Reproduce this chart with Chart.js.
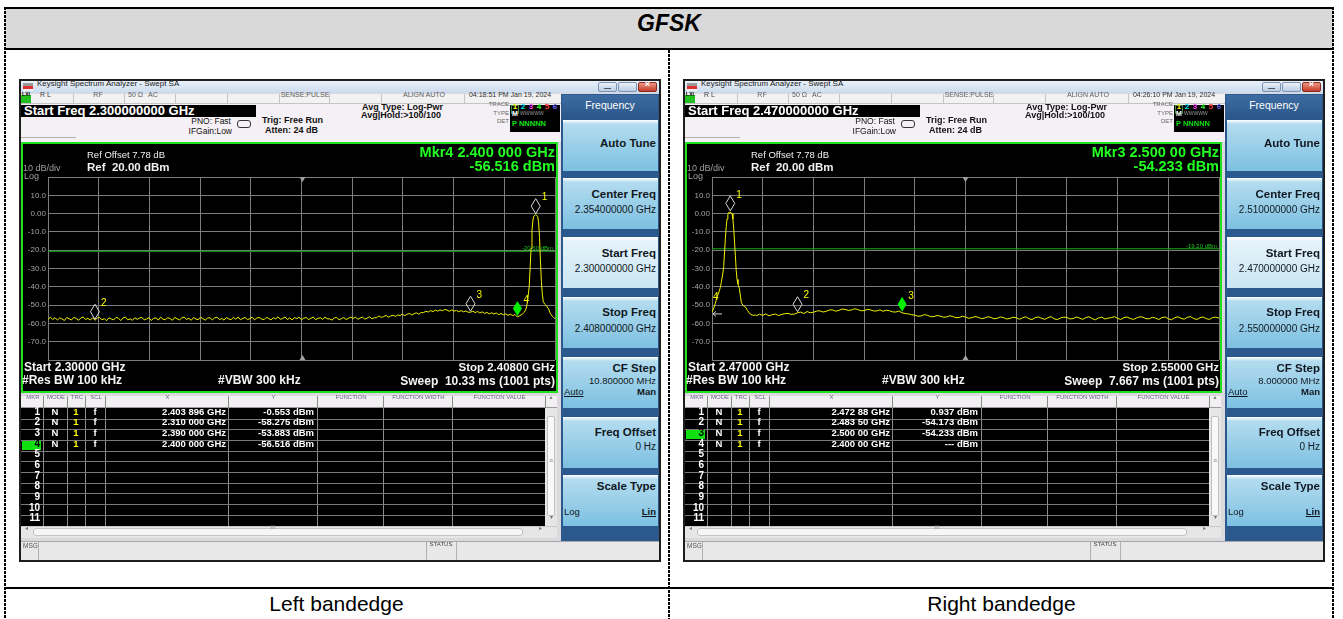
<!DOCTYPE html>
<html>
<head>
<meta charset="utf-8">
<script src="https://cdn.jsdelivr.net/npm/chart.js@4.4.1/dist/chart.umd.min.js"></script>
<style>
html, body { margin: 0; padding: 0; background: #fff; }
body { width: 1343px; height: 619px; position: relative; overflow: hidden; font-family: Arial, "Liberation Sans", sans-serif; }
.vd { position: absolute; width: 2px; background: repeating-linear-gradient(to bottom, #000 0, #000 3px, transparent 3px, transparent 4px); }
</style>
</head>
<body>
<script>
// ---- data ----
const yTickValues = [10, 0, -10, -20, -30, -40, -50, -60, -70];
const yTickLabels = ['10.0', '0.00', '-10.0', '-20.0', '-30.0', '-40.0', '-50.0', '-60.0', '-70.0'];

// left bandedge trace (GHz / dBm)
const leftFreqs = [
  2.3000, 2.3005, 2.3010, 2.3015, 2.3020, 2.3025, 2.3030, 2.3035, 2.3040, 2.3045,
  2.3050, 2.3055, 2.3060, 2.3065, 2.3070, 2.3075, 2.3080, 2.3085, 2.3090, 2.3095,
  2.3100, 2.3105, 2.3110, 2.3115, 2.3120, 2.3125, 2.3130, 2.3135, 2.3140, 2.3145,
  2.3150, 2.3155, 2.3160, 2.3165, 2.3170, 2.3175, 2.3180, 2.3185, 2.3190, 2.3195,
  2.3200, 2.3205, 2.3210, 2.3215, 2.3220, 2.3225, 2.3230, 2.3235, 2.3240, 2.3245,
  2.3250, 2.3255, 2.3260, 2.3265, 2.3270, 2.3275, 2.3280, 2.3285, 2.3290, 2.3295,
  2.3300, 2.3305, 2.3310, 2.3315, 2.3320, 2.3325, 2.3330, 2.3335, 2.3340, 2.3345,
  2.3350, 2.3355, 2.3360, 2.3365, 2.3370, 2.3375, 2.3380, 2.3385, 2.3390, 2.3395,
  2.3400, 2.3405, 2.3410, 2.3415, 2.3420, 2.3425, 2.3430, 2.3435, 2.3440, 2.3445,
  2.3450, 2.3455, 2.3460, 2.3465, 2.3470, 2.3475, 2.3480, 2.3485, 2.3490, 2.3495,
  2.3500, 2.3505, 2.3510, 2.3515, 2.3520, 2.3525, 2.3530, 2.3535, 2.3540, 2.3545,
  2.3550, 2.3555, 2.3560, 2.3565, 2.3570, 2.3575, 2.3580, 2.3585, 2.3590, 2.3595,
  2.3600, 2.3605, 2.3610, 2.3615, 2.3620, 2.3625, 2.3630, 2.3635, 2.3640, 2.3645,
  2.3650, 2.3655, 2.3660, 2.3665, 2.3670, 2.3675, 2.3680, 2.3685, 2.3690, 2.3695,
  2.3700, 2.3705, 2.3710, 2.3715, 2.3720, 2.3725, 2.3730, 2.3735, 2.3740, 2.3745,
  2.3750, 2.3755, 2.3760, 2.3765, 2.3770, 2.3775, 2.3780, 2.3785, 2.3790, 2.3795,
  2.3800, 2.3805, 2.3810, 2.3815, 2.3820, 2.3825, 2.3830, 2.3835, 2.3840, 2.3845,
  2.3850, 2.3855, 2.3860, 2.3865, 2.3870, 2.3875, 2.3880, 2.3885, 2.3890, 2.3895,
  2.3900, 2.3905, 2.3910, 2.3915, 2.3920, 2.3925, 2.3930, 2.3935, 2.3940, 2.3945,
  2.3950, 2.3955, 2.3960, 2.3965, 2.3970, 2.3975, 2.3980, 2.3985, 2.3990, 2.3995,
  2.4000, 2.4005, 2.4010, 2.4015, 2.4019, 2.4022, 2.4025, 2.4027, 2.4029, 2.4031,
  2.4033, 2.4035, 2.4037, 2.4039, 2.4041, 2.4043, 2.4045, 2.4047, 2.4049, 2.4051,
  2.4053, 2.4055, 2.4058, 2.4062, 2.4066, 2.4070, 2.4074, 2.4077, 2.4080
];
const leftLevels = [
  -57.8, -56.6, -57.9, -56.9, -58.2, -57.0, -57.6, -58.4, -56.8, -57.5,
  -58.1, -56.7, -57.3, -58.3, -57.0, -56.5, -57.9, -57.2, -58.2, -56.9,
  -58.3, -57.1, -56.8, -58.0, -57.4, -58.5, -56.9, -57.6, -58.1, -56.7,
  -57.2, -58.4, -57.0, -56.6, -58.0, -57.5, -58.3, -56.9, -57.8, -57.1,
  -56.7, -58.1, -57.6, -56.9, -58.4, -57.2, -57.0, -58.2, -56.6, -57.7,
  -58.0, -56.9, -57.3, -58.3, -56.7, -57.5, -58.1, -57.0, -56.5, -57.9,
  -57.2, -58.3, -56.8, -57.6, -58.0, -56.6, -57.4, -58.2, -57.1, -56.9,
  -58.1, -57.0, -56.6, -57.9, -57.3, -58.2, -56.8, -57.5, -58.0, -56.7,
  -57.7, -56.5, -58.0, -57.2, -56.8, -57.9, -57.4, -56.6, -58.1, -57.0,
  -56.8, -57.6, -58.0, -56.7, -57.3, -58.1, -56.9, -57.5, -56.4, -57.8,
  -57.3, -56.5, -57.9, -57.0, -58.1, -56.8, -57.4, -56.6, -58.0, -57.1,
  -56.8, -57.9, -57.2, -56.5, -58.0, -57.3, -56.9, -57.8, -56.6, -57.5,
  -57.5, -58.2, -57.0, -56.7, -58.1, -57.4, -56.8, -57.9, -57.2, -56.6,
  -57.3, -56.5, -57.8, -57.0, -56.6, -57.7, -57.1, -56.4, -57.5, -56.9,
  -56.9, -55.9, -56.7, -56.3, -55.6, -56.6, -56.0, -55.5, -56.2, -55.4,
  -55.7, -54.9, -55.8, -55.0, -54.6, -55.4, -54.7, -54.2, -55.0, -54.0,
  -54.1, -53.4, -53.8, -53.0, -53.6, -52.7, -53.3, -52.6, -53.1, -52.4,
  -52.7, -53.4, -52.6, -53.3, -52.9, -53.6, -53.0, -53.7, -53.2, -53.9,
  -53.9, -53.3, -54.1, -53.5, -54.3, -53.7, -54.5, -54.0, -54.8, -54.2,
  -54.9, -54.3, -55.2, -54.6, -55.3, -54.8, -55.6, -55.0, -55.7, -55.2,
  -56.5, -55.8, -55.0, -53.8, -51.5, -47.0, -40.0, -30.0, -19.0, -9.0,
  -3.5, -1.4, -0.9, -0.55, -0.9, -1.6, -4.5, -13.0, -26.0, -37.0,
  -44.0, -48.0, -49.5, -50.5, -52.0, -54.5, -56.0, -56.8, -57.3
];
const leftMarkerFreqs = [2.403896, 2.310, 2.390, 2.400];
const leftMarkerLevels = [-0.553, -58.275, -53.883, -56.516];
const leftMarkerX = ['2.403 896 GHz', '2.310 000 GHz', '2.390 000 GHz', '2.400 000 GHz'];
const leftMarkerY = ['-0.553 dBm', '-58.275 dBm', '-53.883 dBm', '-56.516 dBm'];

// right bandedge trace (GHz / dBm)
const rightFreqs = [
  2.4700, 2.4703, 2.47053, 2.4708, 2.47105, 2.4713, 2.47147, 2.4717, 2.47184, 2.4720,
  2.4721, 2.47225, 2.47237, 2.4725, 2.47263, 2.47275, 2.47288, 2.4730, 2.47316, 2.4733,
  2.47342, 2.47355, 2.47369, 2.47382, 2.47395, 2.4741, 2.47432, 2.4745, 2.47464, 2.4749,
  2.47527, 2.4756, 2.47606, 2.4765, 2.47685,
  2.4770, 2.4775, 2.4780, 2.4785, 2.4790, 2.4795, 2.4800, 2.4805, 2.4810, 2.4815,
  2.4820, 2.4825, 2.4830, 2.4835, 2.4840, 2.4845, 2.4850, 2.4855, 2.4860, 2.4865,
  2.4870, 2.4875, 2.4880, 2.4885, 2.4890, 2.4895, 2.4900, 2.4905, 2.4910, 2.4915,
  2.4920, 2.4925, 2.4930, 2.4935, 2.4940, 2.4945, 2.4950, 2.4955, 2.4960, 2.4965,
  2.4970, 2.4975, 2.4980, 2.4985, 2.4990, 2.4995, 2.5000, 2.5005, 2.5010, 2.5015,
  2.5020, 2.5025, 2.5030, 2.5035, 2.5040, 2.5045, 2.5050, 2.5055, 2.5060, 2.5065,
  2.5070, 2.5075, 2.5080, 2.5085, 2.5090, 2.5095, 2.5100, 2.5105, 2.5110, 2.5115,
  2.5120, 2.5125, 2.5130, 2.5135, 2.5140, 2.5145, 2.5150, 2.5155, 2.5160, 2.5165,
  2.5170, 2.5175, 2.5180, 2.5185, 2.5190, 2.5195, 2.5200, 2.5205, 2.5210, 2.5215,
  2.5220, 2.5225, 2.5230, 2.5235, 2.5240, 2.5245, 2.5250, 2.5255, 2.5260, 2.5265,
  2.5270, 2.5275, 2.5280, 2.5285, 2.5290, 2.5295, 2.5300, 2.5305, 2.5310, 2.5315,
  2.5320, 2.5325, 2.5330, 2.5335, 2.5340, 2.5345, 2.5350, 2.5355, 2.5360, 2.5365,
  2.5370, 2.5375, 2.5380, 2.5385, 2.5390, 2.5395, 2.5400, 2.5405, 2.5410, 2.5415,
  2.5420, 2.5425, 2.5430, 2.5435, 2.5440, 2.5445, 2.5450, 2.5455, 2.5460, 2.5465,
  2.5470, 2.5475, 2.5480, 2.5485, 2.5490, 2.5495, 2.5500
];
const rightLevels = [
  -54.0, -51.5, -48.9, -45.5, -43.4, -40.5, -37.5, -33.0, -29.0, -20.0,
  -14.0, -7.0, -3.0, -0.5, 0.6, 0.2, 0.94, 0.3, 0.0, -3.0,
  -8.0, -15.0, -23.0, -31.0, -36.0, -38.5, -41.0, -45.5, -48.7, -50.2,
  -51.0, -53.0, -55.0, -55.6, -55.4,
  -55.8, -55.0, -55.6, -54.8, -55.9, -55.2, -54.9, -55.7, -55.1, -54.7,
  -54.5, -55.1, -54.9, -54.17, -53.8, -54.6, -53.5, -54.2, -53.9, -53.3,
  -53.1, -53.8, -53.4, -52.7, -52.6, -53.3, -52.9, -52.2, -52.3, -52.9,
  -52.7, -52.0, -52.4, -53.1, -53.0, -52.3, -52.6, -53.2, -53.2, -52.6,
  -53.4, -52.8, -53.1, -53.7, -53.8, -53.2, -54.23, -54.6, -54.8, -55.3,
  -55.5, -56.1, -55.9, -55.2, -55.6, -56.3, -56.3, -55.7, -56.0, -56.6,
  -56.5, -55.9, -56.2, -56.9, -56.8, -56.1, -56.5, -57.2, -56.9, -56.3,
  -56.6, -57.4, -57.1, -56.4, -56.7, -57.5, -57.2, -56.5, -56.8, -57.6,
  -57.3, -56.6, -56.9, -57.7, -57.0, -56.4, -57.4, -57.9, -56.8, -56.5,
  -57.2, -57.8, -56.9, -56.3, -57.5, -57.9, -57.0, -56.6, -56.7, -57.6,
  -57.3, -56.5, -57.1, -57.8, -56.8, -56.4, -57.4, -58.0, -57.0, -56.6,
  -57.6, -57.1, -56.9, -56.3, -57.2, -57.9, -56.8, -56.5, -57.3, -57.8,
  -57.0, -56.4, -56.6, -57.5, -57.4, -56.7, -57.1, -57.9, -56.8, -56.5,
  -57.5, -58.0, -56.9, -56.4, -57.2, -57.7, -56.7, -56.3, -57.3, -57.9,
  -56.9, -56.5, -57.4, -57.8, -56.8, -56.6, -57.1
];
const rightMarkerFreqs = [2.47288, 2.4835, 2.500, 2.400];
const rightMarkerLevels = [0.937, -54.173, -54.233, null];
const rightMarkerX = ['2.472 88 GHz', '2.483 50 GHz', '2.500 00 GHz', '2.400 00 GHz'];
const rightMarkerY = ['0.937 dBm', '-54.173 dBm', '-54.233 dBm', '--- dBm'];

const tableHeads = ['MKR', 'MODE', 'TRC', 'SCL', 'X', 'Y', 'FUNCTION', 'FUNCTION WIDTH', 'FUNCTION VALUE'];

// ---- helpers ----
const W = 1343;
const FF = 'Arial, "Liberation Sans", sans-serif';
function el(p, css, text) {
  const d = document.createElement('div');
  d.style.cssText = 'position:absolute;' + css;
  if (text !== undefined) d.textContent = text;
  p.appendChild(d);
  return d;
}
function rect(p, x, y, w, h, css) {
  return el(p, `left:${x}px;top:${y}px;width:${w}px;height:${h}px;` + (css || ''));
}
function txt(p, x, yc, s, font, color, align) {
  let pos;
  if (align === 'r') pos = `right:${W - x}px;`;
  else if (align === 'c') pos = `left:${x - 150}px;width:300px;text-align:center;`;
  else pos = `left:${x}px;`;
  return el(p, pos + `top:${yc - 8}px;height:16px;line-height:16px;white-space:pre;font:${font} ${FF};color:${color};`, s);
}

// draws marker diamonds, centre ticks and display line label using the chart scales
const analyzerMarks = {
  id: 'analyzerMarks',
  afterDatasetsDraw(chart, args, o) {
    const { ctx, chartArea: a, scales: { x, y } } = chart;
    ctx.save();
    const cx = Math.round(x.getPixelForValue((x.min + x.max) / 2)) + 0.5;
    ctx.fillStyle = '#a0a0a0';
    ctx.beginPath(); ctx.moveTo(cx - 3, a.top); ctx.lineTo(cx + 3, a.top); ctx.lineTo(cx, a.top + 5); ctx.fill();
    ctx.beginPath(); ctx.moveTo(cx - 3, a.bottom); ctx.lineTo(cx + 3, a.bottom); ctx.lineTo(cx, a.bottom - 5); ctx.fill();

    ctx.font = '6px ' + FF;
    ctx.fillStyle = '#1cc01c';
    ctx.textAlign = 'right';
    ctx.textBaseline = 'alphabetic';
    ctx.fillText(o.dlLabel, a.right - 2, y.getPixelForValue(o.dl) - 1);

    ctx.font = '10px ' + FF;
    ctx.textBaseline = 'middle';
    ctx.textAlign = 'left';
    o.freqs.forEach((f, i) => {
      if (f < x.min) {
        const py = y.getPixelForValue(o.edgeLevel);
        ctx.strokeStyle = '#d0d0d0';
        ctx.lineWidth = 1;
        ctx.beginPath();
        ctx.moveTo(a.left + 10, py + 1.5); ctx.lineTo(a.left + 1, py + 1.5);
        ctx.moveTo(a.left + 4, py - 1); ctx.lineTo(a.left + 1, py + 1.5); ctx.lineTo(a.left + 4, py + 4);
        ctx.stroke();
        ctx.fillStyle = '#ffff00';
        ctx.fillText(String(i + 1), a.left + 1, py - 15);
        return;
      }
      const px = x.getPixelForValue(f);
      const py = y.getPixelForValue(o.levels[i]);
      ctx.beginPath();
      ctx.moveTo(px, py - 1); ctx.lineTo(px + 4.5, py - 8.5); ctx.lineTo(px, py - 16); ctx.lineTo(px - 4.5, py - 8.5);
      ctx.closePath();
      if (i === o.active) {
        ctx.fillStyle = '#00f000';
        ctx.fill();
      } else {
        ctx.strokeStyle = '#d8d8d8';
        ctx.lineWidth = 1;
        ctx.stroke();
      }
      ctx.fillStyle = '#ffff00';
      ctx.fillText(String(i + 1), px + 6, py - 17);
    });
    ctx.restore();
  }
};

function buildScreen(ox, c) {
  const s = el(document.body, `left:${ox}px;top:0;width:${W}px;height:619px;`);
  // window frame + title bar
  rect(s, 19, 79, 642, 483, 'background:#dcd9de;border:2px solid #1e1e1e;box-sizing:border-box;');
  rect(s, 21, 81, 638, 12, 'background:linear-gradient(#eaf1f9,#cbdaed);');
  rect(s, 23, 83, 10, 8, 'background:linear-gradient(#9a9a9a 0,#9a9a9a 40%,#e03030 40%,#e03030 70%,#f0f0f0 70%);');
  txt(s, 37, 87, 'Keysight Spectrum Analyzer - Swept SA', '8px', '#1a1a1a');
  const btn = 'background:linear-gradient(#eef3fa,#b9cbe3);border:1px solid #7d93b3;box-sizing:border-box;border-radius:2px;';
  rect(s, 598, 82, 19, 10, btn);
  rect(s, 618, 82, 19, 10, btn);
  rect(s, 638, 82, 19, 10, 'background:linear-gradient(#f09484,#c43e2a);border:1px solid #8a2a1c;box-sizing:border-box;border-radius:2px;');
  rect(s, 604, 88, 7, 1, 'background:#555;');
  txt(s, 647.5, 87, '×', 'bold 9px', '#fff', 'c');

  // status line + settings area
  rect(s, 21, 94, 540, 48, 'background:#f5f0f5;');
  rect(s, 21, 94, 540, 10, 'background:#f2f2f2;border-bottom:1px solid #c4c4c4;box-sizing:border-box;');
  [73, 124, 175, 227, 279, 329, 381, 464].forEach(sx => rect(s, sx, 94, 1, 10, 'background:#c4c4c4;'));
  rect(s, 21, 95, 10, 8, 'background:#22c022;');
  txt(s, 26, 99, 'LXI', 'bold 5px', '#000', 'c');
  txt(s, 40, 99, 'R L', '7px', '#404040');
  txt(s, 98, 99, 'RF', '7px', '#606060', 'c');
  txt(s, 128, 99, '50 Ω', '7px', '#606060');
  txt(s, 148, 99, 'AC', '7px', '#606060');
  txt(s, 305, 99, 'SENSE:PULSE', '7px', '#606060', 'c');
  txt(s, 424, 99, 'ALIGN AUTO', '7px', '#606060', 'c');
  txt(s, 510, 99, c.time, '7px', '#303030', 'c');
  rect(s, 21, 105, 235, 12, 'background:#000;');
  txt(s, 24, 111, c.startBox, 'bold 13px', '#fff');
  rect(s, 21, 137, 55, 1, 'background:#b4b4b4;');
  txt(s, 231, 124, 'PNO: Fast', '8.5px', '#111', 'r');
  rect(s, 237, 120, 14, 8, 'border:1px solid #333;border-radius:3px;box-sizing:border-box;');
  txt(s, 232, 134, 'IFGain:Low', '8.5px', '#111', 'r');
  txt(s, 262, 123, 'Trig: Free Run', 'bold 9px', '#111');
  txt(s, 265, 133, 'Atten: 24 dB', 'bold 9px', '#111');
  txt(s, 362, 110, 'Avg Type: Log-Pwr', 'bold 9px', '#111');
  txt(s, 361, 118, 'Avg|Hold:>100/100', 'bold 9px', '#111');
  rect(s, 510, 105, 50, 27, 'background:#000;');
  txt(s, 509, 109, 'TRACE', '6px', '#666', 'r');
  txt(s, 509, 118, 'TYPE', '6px', '#666', 'r');
  txt(s, 509, 126, 'DET', '6px', '#666', 'r');
  rect(s, 511, 105, 8, 9, 'border:1px solid #3a8a3a;box-sizing:border-box;');
  ['#ffff00', '#00e8ff', '#ff40ff', '#30ff30', '#ff4040', '#6a6aff'].forEach((col, i) =>
    txt(s, 515 + i * 8, 109.5, String(i + 1), 'bold 8px', col, 'c'));
  txt(s, 512, 118, 'M', 'bold 7px', '#fff');
  txt(s, 520, 118, 'WWWWW', '5px', '#9a9a9a');
  txt(s, 512, 126.5, 'P NNNNN', 'bold 7.5px', '#10e010');

  // plot panel
  rect(s, 21, 142, 537, 251, 'background:#000;border:2px solid #1fe01f;box-sizing:border-box;');
  const cv = document.createElement('canvas');
  cv.width = 533; cv.height = 247;
  cv.style.cssText = 'position:absolute;left:23px;top:144px;width:533px;height:247px;';
  s.appendChild(cv);
  txt(s, 555, 152, c.mkr1, 'bold 14.5px', '#22ff22', 'r');
  txt(s, 555, 166, c.mkr2, 'bold 14.5px', '#22ff22', 'r');
  txt(s, 87, 157, 'Ref Offset 7.78 dB', '9.5px', '#f0f0f0');
  txt(s, 87, 169, 'Ref  20.00 dBm', 'bold 11.5px', '#f0f0f0');
  txt(s, 23, 171, '10 dB/div', '9px', '#a0a0a0');
  txt(s, 24, 179, 'Log', '9px', '#a0a0a0');
  txt(s, 24, 368, c.startText, 'bold 12px', '#f4f4f4');
  txt(s, 22, 381, '#Res BW 100 kHz', 'bold 12px', '#f4f4f4');
  txt(s, 218, 381, '#VBW 300 kHz', 'bold 12px', '#f4f4f4');
  txt(s, 555, 369, c.stopText, 'bold 11.5px', '#f4f4f4', 'r');
  txt(s, 555, 382, c.sweepText, 'bold 12px', '#f4f4f4', 'r');

  new Chart(cv, {
    type: 'line',
    data: {
      datasets: [
        {
          data: c.freqs.map((f, i) => ({ x: f, y: c.levels[i] })),
          borderColor: '#f2f200', borderWidth: 1, pointRadius: 0, tension: 0
        },
        {
          data: [{ x: c.start, y: c.dl }, { x: c.stop, y: c.dl }],
          borderColor: '#16a816', borderWidth: 1, pointRadius: 0
        }
      ]
    },
    options: {
      responsive: false, animation: false, devicePixelRatio: 1,
      layout: { padding: { top: 33, bottom: 31, left: 0, right: 1 } },
      plugins: {
        legend: { display: false }, tooltip: { enabled: false },
        analyzerMarks: {
          freqs: c.mFreqs, levels: c.mLevels, active: c.active,
          dl: c.dl, dlLabel: c.dlLabel, edgeLevel: c.levels[0]
        }
      },
      scales: {
        x: {
          type: 'linear', min: c.start, max: c.stop,
          ticks: { display: false },
          grid: { color: '#7c7c7c', lineWidth: 1, drawTicks: false },
          border: { display: false },
          afterBuildTicks: sc => {
            const t = [];
            for (let i = 0; i <= 10; i++) t.push({ value: c.start + (c.stop - c.start) * i / 10 });
            sc.ticks = t;
          },
          afterFit: sc => { sc.height = 0; }
        },
        y: {
          type: 'linear', min: -80, max: 20,
          ticks: {
            stepSize: 10, autoSkip: false, padding: 2, color: '#a4a4a4',
            font: { size: 8, family: FF },
            callback: v => { const k = yTickValues.indexOf(v); return k < 0 ? '' : yTickLabels[k]; }
          },
          grid: { color: '#7c7c7c', lineWidth: 1, drawTicks: false },
          border: { display: false },
          afterFit: sc => { sc.width = 25; }
        }
      }
    },
    plugins: [analyzerMarks]
  });

  // marker table
  const cols = [21, 43, 67, 85, 105, 228, 317, 383, 452, 545, 557];
  rect(s, 21, 396, 536, 12, 'background:#f3f0f4;border-bottom:1px solid #9a9a9a;box-sizing:border-box;');
  rect(s, 21, 408, 524, 118, 'background:#000;');
  for (let k = 1; k < 10; k++) rect(s, cols[k], 396, 1, 130, 'background:#8a8a8a;');
  tableHeads.forEach((h, k) => txt(s, (cols[k] + cols[k + 1]) / 2 + 1, 402, h, '6px', '#6c5c8c', 'c'));
  txt(s, 551, 402, '▲', '5px', '#777', 'c');
  for (let r = 0; r < 11; r++) {
    const yt = 408 + r * 10.66;
    if (r > 0) rect(s, 21, Math.round(yt), 524, 1, 'background:#7a7a7a;');
    const yc = yt + 5.6;
    if (r === c.active) rect(s, 22, Math.round(yt) + 1, 19, 9, 'background:#10e010;');
    txt(s, 40, yc, String(r + 1), 'bold 10px', r === c.active ? '#000' : '#fff', 'r');
    if (r < 4) {
      txt(s, 55, yc, 'N', 'bold 9.5px', '#fff', 'c');
      txt(s, 76, yc, '1', 'bold 9.5px', '#ffff00', 'c');
      txt(s, 95, yc, 'f', 'bold 9.5px', '#fff', 'c');
      txt(s, 226, yc, c.tX[r], 'bold 9.5px', '#fff', 'r');
      txt(s, 314, yc, c.tY[r], 'bold 9.5px', '#fff', 'r');
    }
  }
  rect(s, 545, 408, 12, 118, 'background:#e6e6e6;');
  rect(s, 547, 416, 8, 100, 'background:#f8f8f8;border:1px solid #c0c0c0;box-sizing:border-box;border-radius:2px;');
  txt(s, 551, 465, '≡', '7px', '#888', 'c');
  txt(s, 551, 521, '▾', '6px', '#777', 'c');
  rect(s, 21, 526, 536, 12, 'background:#e6e6e6;border-top:1px solid #c8c8c8;box-sizing:border-box;');
  rect(s, 33, 528, 490, 8, 'background:#f6f6f6;border:1px solid #c4c4c4;box-sizing:border-box;border-radius:3px;');
  txt(s, 26, 532, '◂', '6px', '#777', 'c');
  txt(s, 540, 532, '▸', '6px', '#777', 'c');
  txt(s, 273, 532, 'III', '5px', '#888', 'c');

  // message bar
  rect(s, 21, 541, 638, 19, 'background:#e8e8e8;border-top:1px solid #a8a8a8;box-sizing:border-box;');
  rect(s, 38, 542, 1, 18, 'background:#b0b0b0;');
  txt(s, 23, 550, 'MSG', '6.5px', '#555');
  rect(s, 426, 542, 1, 18, 'background:#b0b0b0;');
  rect(s, 456, 542, 1, 18, 'background:#b0b0b0;');
  txt(s, 441, 549, 'STATUS', '6px', '#444', 'c');

  // softkey menu
  rect(s, 561, 94, 98, 447, 'background:#2b598d;');
  rect(s, 562, 95, 96, 24, 'background:linear-gradient(#3d6ca2,#2a568a);');
  txt(s, 610, 107, 'Frequency', '10.5px', '#fff', 'c');
  const keys = [
    { t: 120, lines: [['Auto Tune', 25]] },
    { t: 178, lines: [['Center Freq', 18], [c.center, 34]] },
    { t: 237, lines: [['Start Freq', 18], [c.startF, 34]], hi: true },
    { t: 297, lines: [['Stop Freq', 17], [c.stopF, 34]] },
    { t: 357, lines: [['CF Step', 13], [c.cfStep, 26]], am: ['Auto', 'Man'] },
    { t: 417, lines: [['Freq Offset', 17], ['0 Hz', 32]] },
    { t: 475, lines: [['Scale Type', 13]], am: ['Log', 'Lin'] }
  ];
  keys.forEach(k => {
    rect(s, 563, k.t, 95, 51, k.hi
      ? 'background:linear-gradient(#ffffff 0,#e6f3fa 8%,#c9e6f4 100%);'
      : 'background:linear-gradient(#ffffff 0,#b4dcef 8%,#7cc0e1 100%);');
    k.lines.forEach((ln, j) => txt(s, 656, k.t + ln[1], ln[0], j === 0 ? 'bold 11.5px' : (k.am ? '9.5px' : '10px'), '#111822', 'r'));
    if (k.am) {
      const yy = k.t + (k.lines.length > 1 ? 37 : 39);
      txt(s, 564, yy, k.am[0], '9.5px', '#111822').style.textDecoration = k.am[0] === 'Auto' ? 'underline' : 'none';
      txt(s, 656, yy, k.am[1], 'bold 9.5px', '#111822', 'r').style.textDecoration = k.am[1] === 'Lin' ? 'underline' : 'none';
    }
  });
}

// ---- outer table frame ----
rect(document.body, 4, 7, 1330, 2, 'background:#000;');
rect(document.body, 5, 9, 1328, 39, 'background:#d9d9d9;');
rect(document.body, 4, 48, 1330, 2, 'background:#000;');
el(document.body, `left:4px;top:10px;width:1330px;height:40px;line-height:40px;text-align:center;font:italic bold 23px ${FF};color:#000;`, 'GFSK');
rect(document.body, 4, 587, 1330, 2, 'background:#000;');
el(document.body, `left:5px;top:592px;width:663px;height:24px;line-height:24px;text-align:center;font:21px ${FF};color:#000;`, 'Left bandedge');
el(document.body, `left:670px;top:592px;width:663px;height:24px;line-height:24px;text-align:center;font:21px ${FF};color:#000;`, 'Right bandedge');
['4px;top:7px;height:612px', '668px;top:50px;height:569px', '1332px;top:7px;height:612px'].forEach(p => {
  const d = document.createElement('div');
  d.className = 'vd';
  d.style.cssText = 'left:' + p + ';';
  document.body.appendChild(d);
});

buildScreen(0, {
  freqs: leftFreqs, levels: leftLevels, start: 2.300, stop: 2.408,
  dl: -20.60, dlLabel: '-20.60 dBm',
  mFreqs: leftMarkerFreqs, mLevels: leftMarkerLevels, active: 3,
  tX: leftMarkerX, tY: leftMarkerY,
  time: '04:18:51 PM Jan 19, 2024', startBox: 'Start Freq 2.300000000 GHz',
  mkr1: 'Mkr4 2.400 000 GHz', mkr2: '-56.516 dBm',
  startText: 'Start 2.30000 GHz', stopText: 'Stop 2.40800 GHz', sweepText: 'Sweep  10.33 ms (1001 pts)',
  center: '2.354000000 GHz', startF: '2.300000000 GHz', stopF: '2.408000000 GHz', cfStep: '10.800000 MHz'
});
buildScreen(664, {
  freqs: rightFreqs, levels: rightLevels, start: 2.470, stop: 2.550,
  dl: -19.20, dlLabel: '-19.20 dBm',
  mFreqs: rightMarkerFreqs, mLevels: rightMarkerLevels, active: 2,
  tX: rightMarkerX, tY: rightMarkerY,
  time: '04:26:10 PM Jan 19, 2024', startBox: 'Start Freq 2.470000000 GHz',
  mkr1: 'Mkr3 2.500 00 GHz', mkr2: '-54.233 dBm',
  startText: 'Start 2.47000 GHz', stopText: 'Stop 2.55000 GHz', sweepText: 'Sweep  7.667 ms (1001 pts)',
  center: '2.510000000 GHz', startF: '2.470000000 GHz', stopF: '2.550000000 GHz', cfStep: '8.000000 MHz'
});
</script>
</body>
</html>
